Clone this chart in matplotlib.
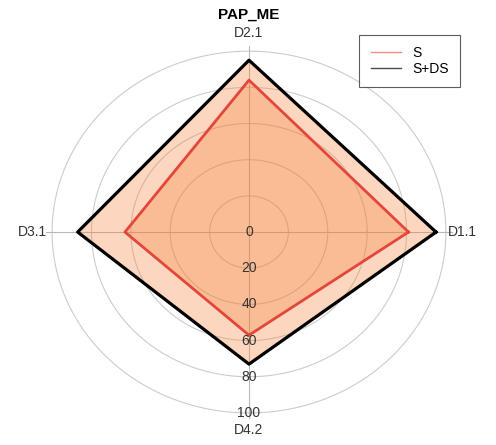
import numpy as np
import matplotlib.pyplot as plt
from matplotlib.lines import Line2D

plt.rcParams['font.family'] = ['Liberation Sans', 'DejaVu Sans']

# radar data
axis_labels = ['D1.1', 'D2.1', 'D3.1', 'D4.2']
s_vals = [81, 84, 63, 57]
sds_vals = [95, 95, 87, 73]
r_ticks = [0, 20, 40, 60, 80, 100]

fill_col = '#f87a28'
red = '#e5463b'

theta = np.linspace(0, 2 * np.pi, len(axis_labels), endpoint=False)
th_closed = np.append(theta, theta[0])

fig = plt.figure(figsize=(4.96, 4.45), dpi=100)
ax = fig.add_axes([0.105, 0.072, 0.794, 0.813], projection='polar')
ax.set_aspect('auto')
ax.set_ylim(0, 100)
ax.grid(False)
ax.set_xticks([])
ax.set_yticks([])
ax.spines['polar'].set_visible(False)

# rings and spokes
ring_t = np.linspace(0, 2 * np.pi, 400)
for r in r_ticks[1:]:
    ax.plot(ring_t, np.full_like(ring_t, r), color='#cccccc', lw=0.8, zorder=1, clip_on=False)
for t in theta:
    ax.plot([t, t], [0, 103], color='#b8b8b8', lw=0.8, zorder=1, clip_on=False)

# filled polygons
ax.fill(th_closed, np.append(sds_vals, sds_vals[0]), color=fill_col, alpha=0.3, lw=0, zorder=2)
ax.fill(th_closed, np.append(s_vals, s_vals[0]), color=fill_col, alpha=0.28, lw=0, zorder=2)
ax.plot(th_closed, np.append(s_vals, s_vals[0]), color=red, lw=2, zorder=3)
ax.plot(th_closed, np.append(sds_vals, sds_vals[0]), color='black', lw=2.3, zorder=3)

# radial labels along the lower spoke
for r in r_ticks:
    ax.text(3 * np.pi / 2, r, str(r), ha='center', va='center', fontsize=10,
            color='#333333', zorder=4)

# axis labels
ax.text(0, 101, axis_labels[0], ha='left', va='center', fontsize=10, color='#333333', clip_on=False)
ax.text(np.pi / 2, 110, axis_labels[1], ha='center', va='center', fontsize=10, color='#333333', clip_on=False)
ax.text(np.pi, 102.5, axis_labels[2], ha='right', va='center', fontsize=10, color='#333333', clip_on=False)
ax.text(3 * np.pi / 2, 109.5, axis_labels[3], ha='center', va='center', fontsize=10, color='#333333', clip_on=False)

fig.text(0.502, 1 - 15 / 445, 'PAP_ME', ha='center', va='center', fontsize=11, fontweight='bold')

handles = [Line2D([], [], color=red, lw=1, alpha=0.6),
           Line2D([], [], color='black', lw=1, alpha=0.7)]
leg = fig.legend(handles, ['S', 'S+DS'], loc='upper right', bbox_to_anchor=(0.927, 0.921),
                 borderaxespad=0, fontsize=10, frameon=True, fancybox=False,
                 edgecolor='#333333', handlelength=2.2, handletextpad=0.8,
                 borderpad=0.8, labelspacing=0.1)
leg.get_frame().set_linewidth(0.8)

fig.savefig('out.png', dpi=100)
